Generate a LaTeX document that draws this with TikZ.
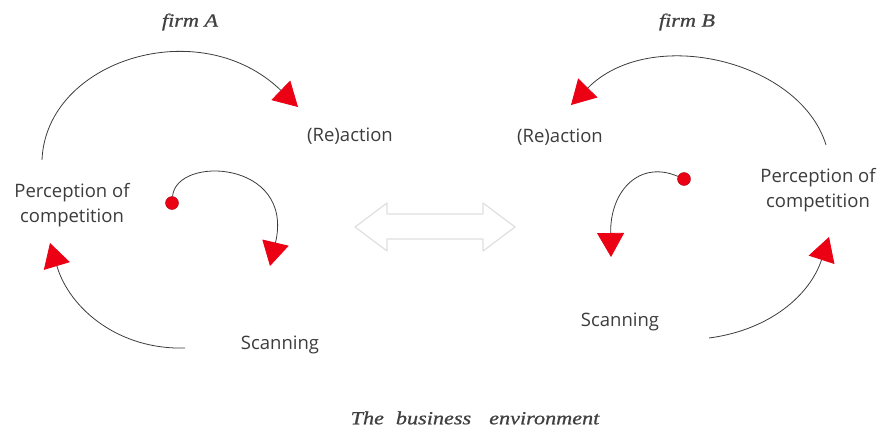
\documentclass[tikz,border=0pt]{standalone}
\usepackage{fontspec}
\setmainfont{Open Sans}
\newfontfamily\capfont[FakeStretch=1.2,FakeBold=0.8]{Liberation Serif}
\usetikzlibrary{arrows.meta,positioning}
\tikzset{>={Triangle[length=24pt,width=27pt]}}
\definecolor{txtgray}{RGB}{60,60,60}
\definecolor{arrred}{RGB}{235,0,20}

\begin{document}
\begin{tikzpicture}[x=1pt,y=-1pt,
  lbl/.style={text=txtgray,font=\fontsize{18.5}{25}\selectfont,align=center,inner sep=0pt},
  firm/.style={text=black!75,font=\capfont\itshape\fontsize{18.5}{20}\selectfont,inner sep=0pt},
  loop/.style={draw=txtgray,line width=0.8pt,-{>[fill=arrred,color=arrred]}},
  dot/.style={circle,fill=arrred,draw=arrred!70!black,minimum size=13pt,inner sep=0pt}]
\useasboundingbox (0,0) rectangle (882,433);

% firm A
\node[firm] (firmA) at (190,22) {firm A};
\node[lbl] (reactA) at (350,136) {(Re)action};
\node[lbl] (percA) at (72,205) {Perception of\\competition};
\node[lbl] (scanA) at (280,345) {Scanning};
\node[dot] (dotA) at (172,203) {};
\coordinate (a1) at (42,160);
\coordinate (a2) at (298,107);
\coordinate (a3) at (185,348);
\coordinate (a4) at (50,243);
\coordinate (a5) at (270,266);
\draw[loop] (a1) .. controls (46,60) and (200,12) .. (a2);
\draw[loop] (a3) .. controls (120,350) and (70,310) .. (a4);
\draw[loop] (dotA) .. controls (176,155) and (295,160) .. (a5);

% firm B
\node[firm] (firmB) at (687,22) {firm B};
\node[lbl] (reactB) at (560,137) {(Re)action};
\node[lbl] (percB) at (818,190) {Perception of\\competition};
\node[lbl] (scanB) at (620,322) {Scanning};
\node[dot] (dotB) at (684,179) {};
\coordinate (b1) at (826,145);
\coordinate (b2) at (571,105);
\coordinate (b3) at (709,338);
\coordinate (b4) at (829,237);
\coordinate (b5) at (611,257);
\draw[loop] (b1) .. controls (800,60) and (650,25) .. (b2);
\draw[loop] (b3) .. controls (770,330) and (810,295) .. (b4);
\draw[loop] (dotB) .. controls (640,160) and (610,190) .. (b5);

% environment
\draw[gray!25,line width=1.2pt,line join=round]
  (355,227) -- (387,203) -- (387,214) -- (483,214) -- (483,203) -- (515,227)
  -- (483,251) -- (483,239) -- (387,239) -- (387,251) -- cycle;
\node[firm] (env) at (475,418) {The\hspace{12pt}business\hspace{18pt}environment};
\end{tikzpicture}
\end{document}
